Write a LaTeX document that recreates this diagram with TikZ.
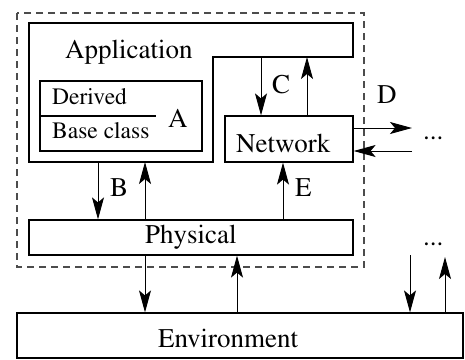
\documentclass[tikz,border=0pt]{standalone}
\usepackage[T1]{fontenc}
\usepackage{mathptmx}
\usetikzlibrary{arrows.meta}
\begin{document}
\begin{tikzpicture}[x=1pt,y=-1pt,
  box/.style={draw, line width=1.2pt, inner sep=0pt},
  conn/.style={line width=1pt, -{Stealth[length=22pt,width=12pt,inset=5pt]}},
  lbl/.style={font=\fontsize{27}{29}\selectfont\rmfamily, inner sep=0pt, anchor=base west},
  slbl/.style={font=\fontsize{23.5}{25}\selectfont\rmfamily, inner sep=0pt, anchor=base west}]
\useasboundingbox (0,0) rectangle (465,359);
% dashed frame
\draw[line width=1.4pt, black!70, dash pattern=on 7pt off 5pt] (17,13) rectangle (364,267);
% application shape
\coordinate (appTL) at (29,23);
\coordinate (appTR) at (353,23);
\coordinate (appNR) at (353,57);
\coordinate (appNL) at (213,57);
\coordinate (appBR) at (213,162);
\coordinate (appBL) at (29,162);
\draw[line width=1.2pt] (appTL) -- (appTR) -- (appNR) -- (appNL) -- (appBR) -- (appBL) -- cycle;
\node[lbl] (applbl) at (65,58) {Application};
% derived / base class
\node[box, minimum width=162pt, minimum height=70pt] (cls) at (121,116) {};
\coordinate (divR) at (156,116);
\draw[line width=1.2pt] (cls.west) -- (divR);
\node[slbl] (der) at (52,104) {Derived};
\node[slbl] (base) at (52,138) {Base class};
\node[lbl] (la) at (168,127) {A};
% network
\node[box, minimum width=128pt, minimum height=46pt] (net) at (289,139) {};
\node[lbl] (netlbl) at (236,152) {Network};
% physical
\node[box, minimum width=324pt, minimum height=35pt] (phys) at (191,237.5) {};
\node[lbl] (physlbl) at (145,243) {Physical};
% environment
\node[box, minimum width=446pt, minimum height=45pt] (env) at (240,335.5) {};
\node[lbl] (envlbl) at (158,347) {Environment};
% x positions of connectors
\coordinate (xc1) at (261,0);
\coordinate (xc2) at (307,0);
\coordinate (xb1) at (98,0);
\coordinate (xb2) at (145,0);
\coordinate (xe) at (283,0);
\coordinate (xp2) at (237,0);
\coordinate (xr1) at (410,0);
\coordinate (xr2) at (445,0);
\coordinate (yd1) at (0,128);
\coordinate (yd2) at (0,151);
\coordinate (dEnd1) at (412,128);
\coordinate (dEnd2) at (412,151);
\coordinate (rTop1) at (410,255);
\coordinate (rTop2) at (445,257);
% C
\draw[conn] (appNL -| xc1) -- (net.north -| xc1);
\draw[conn] (net.north -| xc2) -- (appNL -| xc2);
\node[lbl] (lc) at (272,93) {C};
% D
\draw[conn] (net.east |- yd1) -- (dEnd1);
\draw[conn] (dEnd2) -- (net.east |- yd2);
\node[lbl] (ld) at (377,103) {D};
\node[lbl] (dots1) at (423,139) {...};
% B
\draw[conn] (appBL -| xb1) -- (phys.north -| xb1);
\draw[conn] (phys.north -| xb2) -- (appBL -| xb2);
\node[lbl] (lb) at (110,196) {B};
% E
\draw[conn] (phys.north -| xe) -- (net.south -| xe);
\node[lbl] (le) at (295,196) {E};
% physical - environment
\draw[conn] (phys.south -| xb2) -- (env.north -| xb2);
\draw[conn] (env.north -| xp2) -- (phys.south -| xp2);
% right side
\draw[conn] (rTop1) -- (env.north -| xr1);
\draw[conn] (env.north -| xr2) -- (rTop2);
\node[lbl] (dots2) at (423,245) {...};
\end{tikzpicture}
\end{document}
